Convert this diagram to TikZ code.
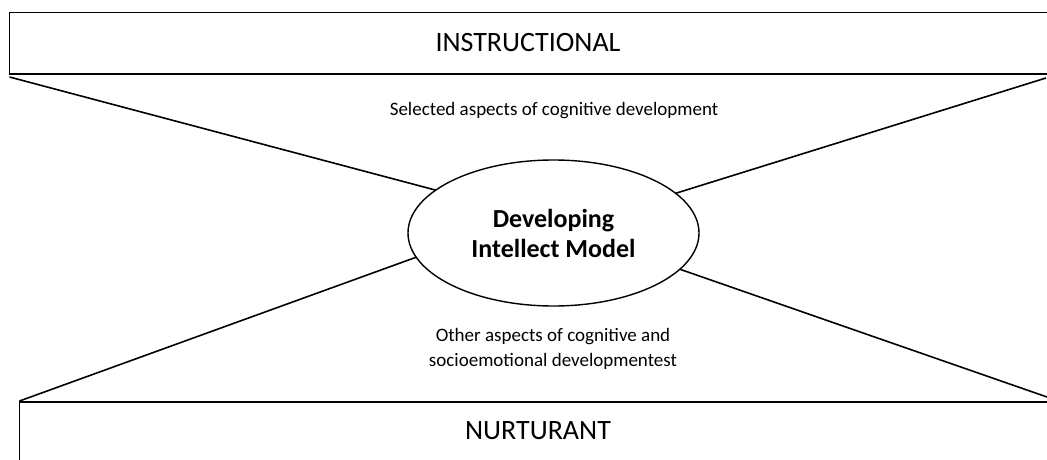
\documentclass[tikz,border=0pt]{standalone}
\usepackage{fontspec}
\setmainfont{Carlito}
\usetikzlibrary{shapes.geometric}
\tikzset{
  band/.style={draw, line width=1.7pt, anchor=north west, inner sep=0pt, outer sep=0pt},
  bandtext/.style={font=\fontsize{28}{34}\selectfont, inner sep=0pt},
  smalltext/.style={font=\fontsize{19}{25}\selectfont, align=center, inner sep=0pt},
  core/.style={draw, ellipse, line width=1.4pt, minimum width=291pt, minimum height=146pt,
    inner sep=0pt, outer sep=0pt, align=center, font=\bfseries\fontsize{26}{30}\selectfont},
  spoke/.style={line width=1.6pt}
}
\begin{document}
\begin{tikzpicture}[x=1pt,y=-1pt]
\useasboundingbox (0,0) rectangle (1047,460);
\clip (0,0) rectangle (1047,460);
% bands
\node[band, minimum width=1045pt, minimum height=61.5pt] (top) at (9.5,12.5) {};
\node[bandtext] (toplabel) at (528,43) {INSTRUCTIONAL};
\node[band, minimum width=1045pt, minimum height=70pt] (bottom) at (19.5,402) {};
\node[bandtext] (bottomlabel) at (538,431) {NURTURANT};
% core
\node[core] (ell) at (553.5,233) {Developing\\Intellect Model};
% labels
\node[smalltext] (upper) at (554,111) {Selected aspects of cognitive development};
\node[smalltext] (lower) at (553,349) {Other aspects of cognitive and\\socioemotional developmentest};
% spokes
\coordinate (tl) at (9.5,77);
\coordinate (tr) at (1046,78);
\coordinate (bl) at (19.5,401);
\coordinate (br) at (1047,397);
\draw[spoke] (tl) -- (ell.160.5);
\draw[spoke] (tr) -- (ell.18.5);
\draw[spoke] (bl) -- (ell.190.3);
\draw[spoke] (br) -- (ell.344.6);
\end{tikzpicture}
\end{document}
